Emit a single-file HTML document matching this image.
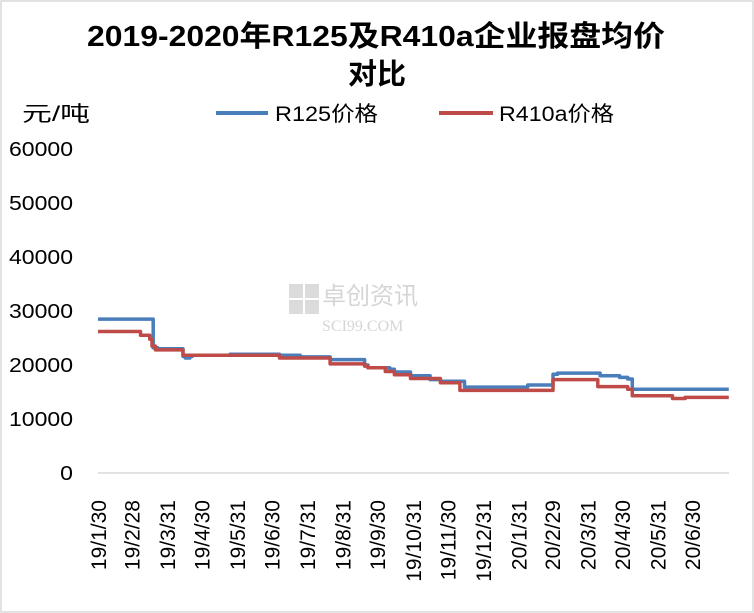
<!DOCTYPE html>
<html><head><meta charset="utf-8"><style>
body{margin:0;background:#fff}
svg{display:block;font-family:"Liberation Sans","Noto Sans CJK SC",sans-serif}
</style></head><body>
<svg width="754" height="613" viewBox="0 0 754 613">
<rect x="1" y="1" width="752" height="611" fill="#fff" stroke="#d9d9d9" stroke-width="1.5"/>
<text x="376" y="46" text-anchor="middle" font-size="29" font-weight="bold" textLength="578" lengthAdjust="spacingAndGlyphs">2019-2020年R125及R410a企业报盘均价</text>
<text x="377" y="84" text-anchor="middle" font-size="29" font-weight="bold">对比</text>
<text x="22" y="121" font-size="21" textLength="68" lengthAdjust="spacingAndGlyphs">元/吨</text>
<g>
<line x1="216" y1="113" x2="268" y2="113" stroke="#4a7ebb" stroke-width="4"/>
<text x="275" y="121" font-size="21" textLength="103" lengthAdjust="spacingAndGlyphs">R125价格</text>
</g>
<g>
<line x1="439" y1="113" x2="493" y2="113" stroke="#be4b48" stroke-width="4"/>
<text x="499" y="121" font-size="21" textLength="115" lengthAdjust="spacingAndGlyphs">R410a价格</text>
</g>
<g opacity="0.35">
<rect x="289" y="284" width="14" height="14" fill="#999"/><rect x="305" y="284" width="14" height="14" fill="#999"/>
<rect x="289" y="300" width="14" height="14" fill="#999"/><rect x="305" y="300" width="14" height="14" fill="#999"/>
<text x="322" y="304" font-size="24" fill="#888">卓创资讯</text>
<text x="322" y="331" font-size="16" fill="#888" font-family="Liberation Serif,serif">SCI99.COM</text>
</g>
<g id="yaxis"></g>
<g id="xaxis"></g>
<g id="series"></g>
</svg>
<script>
const yTicks=[0,10000,20000,30000,40000,50000,60000];
const xLabels=["19/1/30","19/2/28","19/3/31","19/4/30","19/5/31","19/6/30","19/7/31","19/8/31","19/9/30","19/10/31","19/11/30","19/12/31","20/1/31","20/2/29","20/3/31","20/4/30","20/5/31","20/6/30"];
const xLabelDays=[0,29,60,90,121,151,182,213,243,274,304,335,366,395,426,456,487,517];
const r125Days=[0,48,50,52,74,76,80,82,115,124,158,176,202,232,235,254,258,272,289,298,315,319,374,396,400,437,454,461,465,549];
const r125Vals=[28500,23200,23200,23000,21600,21300,21600,21800,22000,22000,21800,21500,21000,20000,19500,19200,18700,18000,17300,17000,17000,15900,16300,18300,18500,18000,17700,17400,15500,15500];
const r410Days=[0,37,45,47,50,74,76,158,180,202,232,235,250,258,272,289,298,315,396,435,454,461,465,500,511,549];
const r410Vals=[26200,25500,24800,23500,22800,21800,21800,21300,21300,20200,19800,19500,18800,18200,17500,17500,16700,15300,17300,16000,16000,15500,14300,13800,14000,14000];
const NS="http://www.w3.org/2000/svg";
const X0=98,XD=1.149,Y0=473,YS=324/60000;
const xs=d=>X0+d*XD, ys=v=>Y0-v*YS;
const ya=document.getElementById('yaxis'),xa=document.getElementById('xaxis'),sg=document.getElementById('series');
yTicks.forEach(v=>{const t=document.createElementNS(NS,'text');
t.setAttribute('x',73);t.setAttribute('y',ys(v)+7);t.setAttribute('text-anchor','end');t.setAttribute('font-size','20');
t.setAttribute('textLength',String(v).length*12.8);t.setAttribute('lengthAdjust','spacingAndGlyphs');


t.textContent=v;ya.appendChild(t);});
const ax=document.createElementNS(NS,'line');
ax.setAttribute('x1',98);ax.setAttribute('x2',729);ax.setAttribute('y1',Y0);ax.setAttribute('y2',Y0);ax.setAttribute('stroke','#d9d9d9');ax.setAttribute('stroke-width','1.5');


xa.appendChild(ax);
xLabels.forEach((l,i)=>{const t=document.createElementNS(NS,'text');const x=xs(xLabelDays[i])+8,y=500;
t.setAttribute('transform','translate('+x+','+y+') rotate(-90)');t.setAttribute('text-anchor','end');t.setAttribute('font-size','21');


t.textContent=l;xa.appendChild(t);});
// each value holds from its day until the next day (step line)
function draw(days,vals,color,name){let d='';
days.forEach((dd,i)=>{const x=xs(dd).toFixed(1),y=ys(vals[i]).toFixed(1);
if(i===0)d+='M'+x+' '+y+' ';else d+='H'+x+' V'+y+' ';});
const p=document.createElementNS(NS,'path');p.setAttribute('d',d);p.setAttribute('fill','none');p.setAttribute('stroke',color);
p.setAttribute('stroke-width','3.5');p.setAttribute('stroke-linejoin','round');


sg.appendChild(p);}
draw(r125Days,r125Vals,'#4a7ebb','r125-price-line');
draw(r410Days,r410Vals,'#be4b48','r410a-price-line');
</script>
</body></html>
